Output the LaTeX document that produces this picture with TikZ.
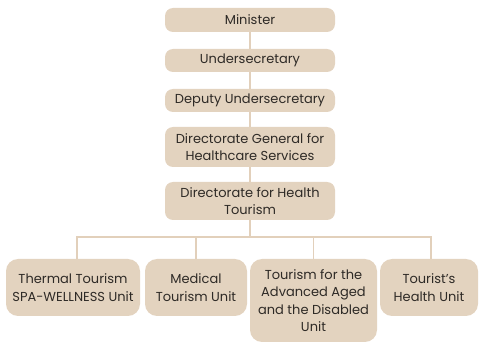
\documentclass[tikz,border=0pt]{standalone}
\usepackage{fontspec}
\setmainfont{Poppins}
\usetikzlibrary{calc}
\definecolor{boxfill}{HTML}{E3D3BF}
\definecolor{linecol}{HTML}{E2D0BB}
\definecolor{txt}{HTML}{2E2A26}
\begin{document}
\begin{tikzpicture}[x=1pt,y=-1pt,
  orgbox/.style={fill=boxfill, draw=none, rounded corners=8pt, align=center,
    text=txt, inner sep=0pt, font=\fontsize{13}{17.5}\selectfont},
  topbox/.style={orgbox, minimum width=170pt},
  lowbox/.style={orgbox, rounded corners=12pt},
  conn/.style={draw=linecol, line width=1.2pt}]
\useasboundingbox (0,0) rectangle (480,342);
\node[topbox, minimum height=24pt] (min) at (250,20) {Minister};
\node[topbox, minimum height=23pt] (und) at (250,60.5) {Undersecretary};
\node[topbox, minimum height=23pt] (dep) at (250,100.5) {Deputy Undersecretary};
\node[topbox, minimum height=40pt] (dg) at (250,147) {Directorate General for\\Healthcare Services};
\node[topbox, minimum height=38pt] (dht) at (250,201) {Directorate for Health\\Tourism};
\node[lowbox, minimum width=134pt, minimum height=57pt] (b1) at (73,287.5) {Thermal Tourism\\SPA-WELLNESS Unit};
\node[lowbox, minimum width=102pt, minimum height=57pt] (b2) at (196,287.5) {Medical\\Tourism Unit};
\node[lowbox, minimum width=127pt, minimum height=83pt] (b3) at (313.5,300.5) {Tourism for the\\Advanced Aged\\and the Disabled\\Unit};
\node[lowbox, minimum width=98pt, minimum height=57pt] (b4) at (429,287.5) {Tourist's\\Health Unit};
\coordinate (bus) at (250,237);
\draw[conn] (min) -- (und);
\draw[conn] (und) -- (dep);
\draw[conn] (dep) -- (dg);
\draw[conn] (dg) -- (dht);
\draw[conn] (dht.south) -- (bus);
\draw[conn] ($(b1.north)+(4,0)$) |- (bus) -| ($(b4.north)+(2,0)$);
\draw[conn] (b2.north) -- (b2.north |- bus);
\draw[conn] (b3.north) -- (b3.north |- bus);
\end{tikzpicture}
\end{document}
